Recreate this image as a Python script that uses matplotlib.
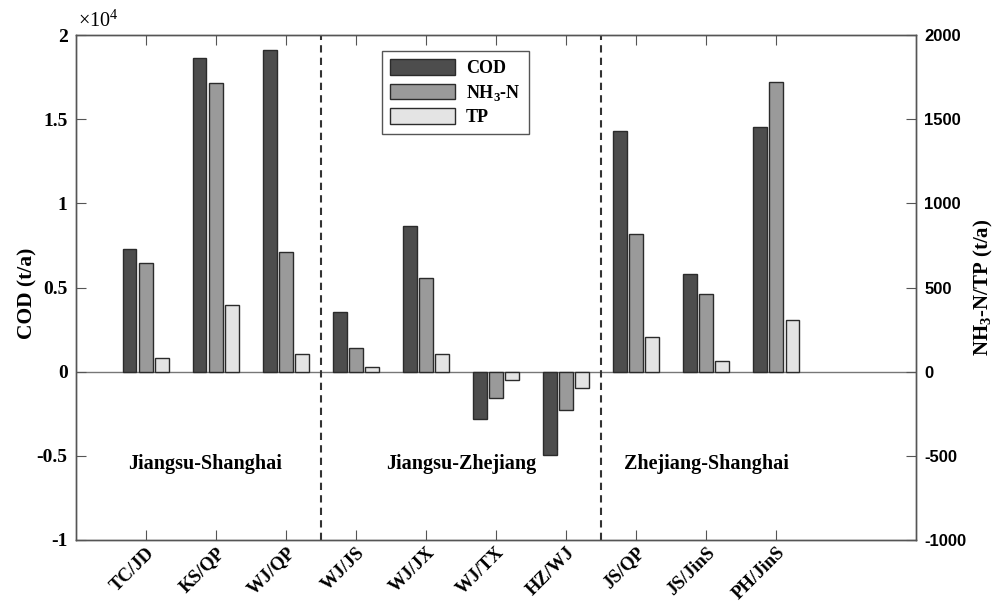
import numpy as np
import matplotlib
matplotlib.use("Agg")
import matplotlib.pyplot as plt
import matplotlib.transforms as mtransforms

plt.rcParams["font.family"] = "Liberation Serif"
plt.rcParams["mathtext.fontset"] = "custom"
plt.rcParams["mathtext.rm"] = "Liberation Serif"
plt.rcParams["mathtext.bf"] = "Liberation Serif:bold"

sites = ["TC/JD", "KS/QP", "WJ/QP", "WJ/JS", "WJ/JX", "WJ/TX", "HZ/WJ",
         "JS/QP", "JS/JinS", "PH/JinS"]
cod = [7290, 18640, 19110, 3570, 8650, -2790, -4950, 14300, 5820, 14540]
nh3 = [645, 1715, 713, 143, 555, -158, -228, 816, 462, 1720]
tp = [80, 396, 107, 30, 107, -51, -95, 206, 64, 307]
regions = ["Jiangsu-Shanghai", "Jiangsu-Zhejiang", "Zhejiang-Shanghai"]
region_x = [1.85, 5.5, 9.0]
dividers = [3.5, 7.5]

c_cod, c_nh3, c_tp = "#4d4d4d", "#9a9a9a", "#e4e4e4"
edge = "#2b2b2b"
spine_c = "#555555"

fig = plt.figure(figsize=(9.99, 6.04), dpi=100)
ax = fig.add_axes([0.076, 0.106, 0.841, 0.836])
ax2 = ax.twinx()

x = np.arange(1, len(sites) + 1)
w = 0.19
off = 0.23
b1 = ax.bar(x - off, np.array(cod) / 1e4, w, color=c_cod, edgecolor=edge, lw=1)
b2 = ax2.bar(x, nh3, w, color=c_nh3, edgecolor=edge, lw=1)
b3 = ax2.bar(x + off, tp, w, color=c_tp, edgecolor=edge, lw=1)

ax.set_xlim(0, 12)
ax.set_ylim(-1, 2)
ax2.set_ylim(-1000, 2000)
ax.axhline(0, color="#777777", lw=1, zorder=0)
for d in dividers:
    ax2.axvline(d, color="#333333", lw=1.5, ls=(0, (3.5, 2.5)))

ax.set_yticks([-1, -0.5, 0, 0.5, 1, 1.5, 2])
ax.set_yticklabels(["-1", "-0.5", "0", "0.5", "1", "1.5", "2"],
                   fontsize=14, fontweight="bold")
ax2.set_yticks(range(-1000, 2001, 500))
ax2.set_yticklabels([str(v) for v in range(-1000, 2001, 500)],
                    fontsize=12, fontweight="bold", family="Liberation Sans")
ax.set_xticks(x)
ax.set_xticklabels(sites, rotation=45, ha="right", rotation_mode="anchor",
                   fontsize=13.5, fontweight="bold")
shift = mtransforms.ScaledTranslation(5 / 100, 0, fig.dpi_scale_trans)
for lbl in ax.get_xticklabels():
    lbl.set_transform(lbl.get_transform() + shift)

ax.tick_params(axis="x", direction="in", top=True, length=7, color=spine_c, pad=3)
ax.tick_params(axis="y", direction="in", length=7, color=spine_c, pad=6)
ax2.tick_params(axis="y", direction="in", length=7, color=spine_c, pad=6)
for a in (ax, ax2):
    for s in a.spines.values():
        s.set_color(spine_c)
        s.set_linewidth(1)

ax.set_ylabel("COD (t/a)", fontsize=15.5, fontweight="bold")
ax.yaxis.set_label_coords(-0.046, 0.488)
ax2.set_ylabel(r"NH$_\mathbf{3}$-N/TP (t/a)", fontsize=15, fontweight="bold",
               labelpad=4)
ax.text(0.002, 1.006, r"$\times10^4$", transform=ax.transAxes, fontsize=14.5,
        va="bottom", ha="left")

for name, rx in zip(regions, region_x):
    ax.text(rx, -0.55, name, fontsize=14.5, fontweight="bold",
            ha="center", va="center")

leg = ax2.legend([b1, b2, b3], ["COD", r"NH$_\mathbf{3}$-N", "TP"],
                 loc="upper left", bbox_to_anchor=(0.364, 0.968),
                 fancybox=False, edgecolor="#555555", framealpha=1,
                 handlelength=3.6, handleheight=0.95, borderpad=0.45,
                 labelspacing=0.3, handletextpad=0.6, borderaxespad=0,
                 prop={"family": "Liberation Serif", "weight": "bold", "size": 13})
leg.get_frame().set_linewidth(1)

fig.savefig("out.png", dpi=100)
